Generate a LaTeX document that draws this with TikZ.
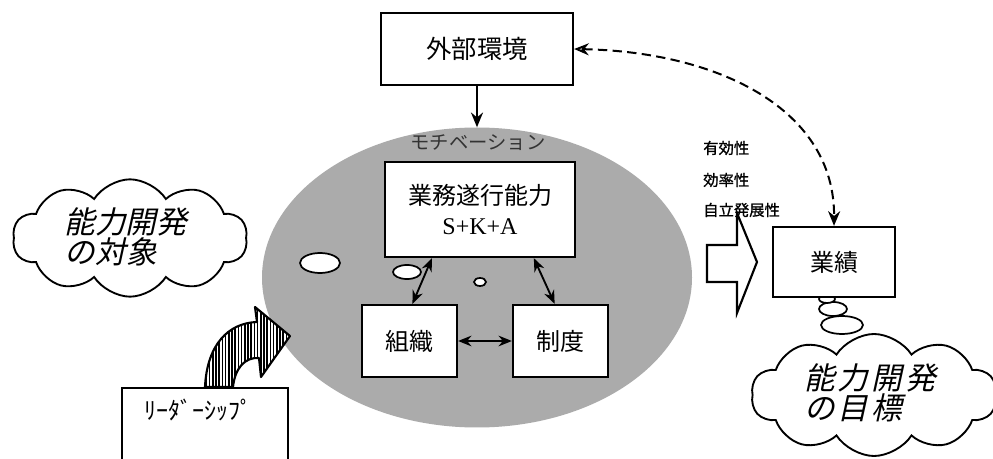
\documentclass[tikz,border=0pt]{standalone}
\usepackage{fontspec}
\setmainfont{Noto Sans CJK JP}
\newfontfamily\serifjp{Liberation Serif}
\newfontfamily\cjkit[FakeSlant=0.22]{Noto Sans CJK JP}
\newfontfamily\cjkitw[FakeSlant=0.22,LetterSpace=10]{Noto Sans CJK JP}
\newfontfamily\cjkbf[FakeBold=1.2]{Noto Sans CJK JP}
\usetikzlibrary{shapes.symbols,shapes.geometric,arrows.meta,calc}
\tikzset{
  boxnode/.style={draw, line width=1.7pt, fill=white, inner sep=0pt, align=center,
                  font=\fontsize{18}{22}\selectfont},
  dbl/.style={{Stealth[length=10pt,width=8pt]}-{Stealth[length=10pt,width=8pt]}, line width=1.4pt},
  bubble/.style={draw, line width=1.3pt, fill=white},
  cloudnode/.style={cloud, draw, line width=1.4pt, fill=white, cloud puffs=10,
                    cloud puff arc=115, aspect=2, inner sep=0pt},
  lbl/.style={anchor=west, inner sep=0pt, font=\cjkbf\fontsize{11.5}{12}\selectfont},
}
\begin{document}
\begin{tikzpicture}[x=0.75pt,y=-0.75pt]
\clip (0,0) rectangle (993,459);
\fill[white] (0,0) rectangle (993,459);

% big gray ellipse
\node[ellipse, fill=black!33, minimum width=322.5pt, minimum height=225pt, inner sep=0pt] (motiv) at (477,277.5) {};
\node[font=\fontsize{14.5}{15}\selectfont, text=black!80, inner sep=0pt] (motlbl) at (478,143) {モチベーション};

% small white ellipses
\draw[bubble] (320,263) ellipse [x radius=20, y radius=10];
\draw[bubble] (407,272) ellipse [x radius=14, y radius=7];
\draw[bubble] (480,282) ellipse [x radius=6, y radius=4];

% boxes
\node[boxnode, font=\fontsize{19}{22}\selectfont, minimum width=144pt, minimum height=54pt] (env) at (477,49) {外部環境};
\node[boxnode, minimum width=142.5pt, minimum height=71.25pt] (biz) at (480,209.5) {業務遂行能力\\{\serifjp S+K+A}};
\node[boxnode, minimum width=71.25pt, minimum height=54pt] (org) at (409.5,341) {組織};
\node[boxnode, minimum width=71.25pt, minimum height=54pt] (sys) at (560.5,341) {制度};
\node[boxnode, minimum width=124.5pt, minimum height=84pt] (lead) at (205,444) {};
\node[font=\fontsize{18}{18}\selectfont, inner sep=0pt] (leadtxt) at (198,410) {ﾘｰﾀﾞｰｼｯﾌﾟ};

% arrows
\draw[-{Stealth[length=11pt,width=9pt]}, line width=1.6pt] (env.south) -- (motiv.north);
\draw[dbl] ($(biz.south west)!0.25!(biz.south east)$) -- ($(org.north west)!0.53!(org.north east)$);
\draw[dbl] ($(biz.south west)!0.78!(biz.south east)$) -- ($(sys.north west)!0.44!(sys.north east)$);
\draw[dbl] (org.east) -- (sys.west);

% striped curved arrow
\def\stripedarrow{(205,387) .. controls (207,345) and (228,323) .. (257,322)
  -- (255,307) -- (290,336) -- (261,377) -- (259,358)
  .. controls (245,357) and (235,368) .. (233,387) -- cycle}
\fill[white] \stripedarrow;
\begin{scope}
\clip \stripedarrow;
\foreach \xx in {200,203.2,...,295} {\draw[line width=1.1pt] (\xx,300) -- (\xx,395);}
\end{scope}
\draw[line width=1.6pt, line join=round] \stripedarrow;

% left cloud
\node[cloudnode, minimum width=176pt, minimum height=88pt] (cloudL) at (130,238) {};
\node[align=left, inner sep=0pt, font=\cjkit\fontsize{23}{22.5}\selectfont] (cloudLtxt) at (126,237) {能力開発\\の対象};

% right side labels
\node[lbl] (l1) at (703,148) {有効性};
\node[lbl] (l2) at (703,180) {効率性};
\node[lbl] (l3) at (703,210) {自立発展性};

% big white arrow
\draw[line width=1.6pt, fill=white] (707,245) -- (737,245) -- (737,213) -- (757,262)
  -- (737,313) -- (737,282) -- (707,282) -- cycle;

% thought bubbles
\draw[bubble] (842,325) ellipse [x radius=21, y radius=9];
\draw[bubble] (833,309) ellipse [x radius=14, y radius=7];
\draw[bubble] (827,299) ellipse [x radius=8, y radius=4];

% performance box
\node[boxnode, minimum width=91.5pt, minimum height=52.5pt] (perf) at (834,262) {業績};

% right cloud
\node[cloudnode, minimum width=184pt, minimum height=91.5pt] (cloudR) at (874,395) {};
\node[align=left, inner sep=0pt, font=\cjkitw\fontsize{23}{22.5}\selectfont] (cloudRtxt) at (870,393) {能力開発\\の目標};

% dashed arrow
\draw[dashed, dash pattern=on 7pt off 4pt, line width=1.5pt,
  {Stealth[length=11pt,width=9pt,open]}-{Stealth[length=11pt,width=9pt]}]
  (env.east) .. controls (720,52) and (835,110) .. (perf.north);
\end{tikzpicture}
\end{document}
